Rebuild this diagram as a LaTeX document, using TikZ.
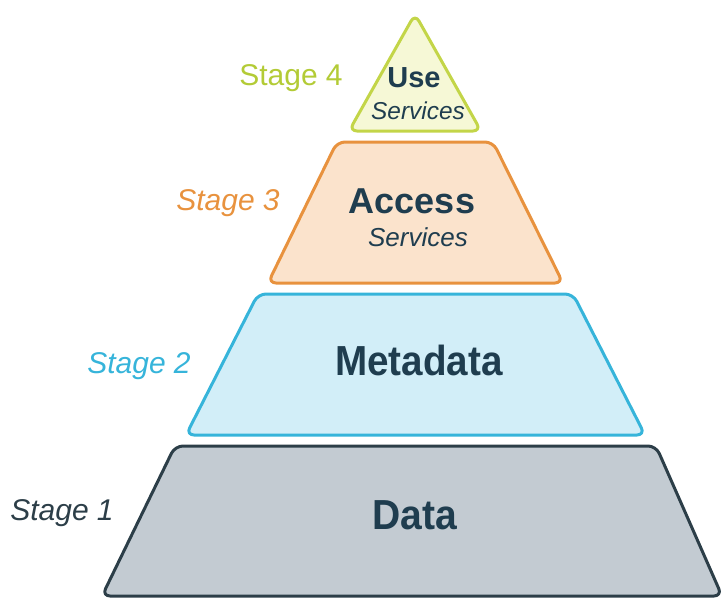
\documentclass[tikz,border=0pt]{standalone}
\usepackage{fontspec}
\setmainfont{Liberation Sans}
\definecolor{ink}{HTML}{1F3D4F}
\definecolor{usefill}{HTML}{F6F8D6}
\definecolor{usedraw}{HTML}{C3D548}
\definecolor{usetext}{HTML}{B3CB36}
\definecolor{accfill}{HTML}{FBE3CC}
\definecolor{accdraw}{HTML}{E8923E}
\definecolor{metfill}{HTML}{D2EEF8}
\definecolor{metdraw}{HTML}{36B4DA}
\definecolor{datfill}{HTML}{C3CBD2}
\definecolor{datdraw}{HTML}{2C3E48}
\tikzset{
  layer/.style={line width=1.5pt, rounded corners=4pt, line join=round},
  title/.style={font=\bfseries, text=ink, inner sep=0pt},
  sub/.style={font=\itshape\fontsize{13}{15}\selectfont, text=ink, inner sep=0pt},
  stagelbl/.style={font=\fontsize{15}{18}\selectfont, inner sep=0pt}
}
\begin{document}
\begin{tikzpicture}[x=0.5pt,y=-0.5pt]
\useasboundingbox (0,0) rectangle (723,600);
% layers
\draw[layer, fill=datfill, draw=datdraw] (175,446) -- (656,446) -- (722,596) -- (102,596) -- cycle;
\draw[layer, fill=metfill, draw=metdraw] (258,294) -- (573,294) -- (645,435) -- (186,435) -- cycle;
\draw[layer, fill=accfill, draw=accdraw] (337,142) -- (493,142) -- (563,283) -- (268,283) -- cycle;
\draw[layer, fill=usefill, draw=usedraw] (415,14) -- (481,131) -- (349,131) -- cycle;
% texts
\node[title, font=\bfseries\fontsize{14.5}{17}\selectfont] (use) at (414,78) {Use};
\node[sub, font=\itshape\fontsize{12.2}{14}\selectfont] (usesub) at (418,111) {Services};
\node[title, font=\bfseries\fontsize{18}{21}\selectfont] (acc) at (412,201) {Access};
\node[sub] (accsub) at (418,237) {Services};
\node[title, font=\bfseries\fontsize{21}{25}\selectfont] (met) at (419,360) {\scalebox{0.92}[1]{Metadata}};
\node[title, font=\bfseries\fontsize{21}{25}\selectfont] (dat) at (415,515) {\scalebox{0.93}[1]{Data}};
\node[stagelbl, text=usetext] (s4) at (291,78) {Stage 4};
\node[stagelbl, text=accdraw, font=\itshape\fontsize{15}{18}\selectfont] (s3) at (228,203) {Stage 3};
\node[stagelbl, text=metdraw, font=\itshape\fontsize{15}{18}\selectfont] (s2) at (139,366) {Stage 2};
\node[stagelbl, text=datdraw, font=\itshape\fontsize{15}{18}\selectfont] (s1) at (62,513) {Stage 1};
\end{tikzpicture}
\end{document}
